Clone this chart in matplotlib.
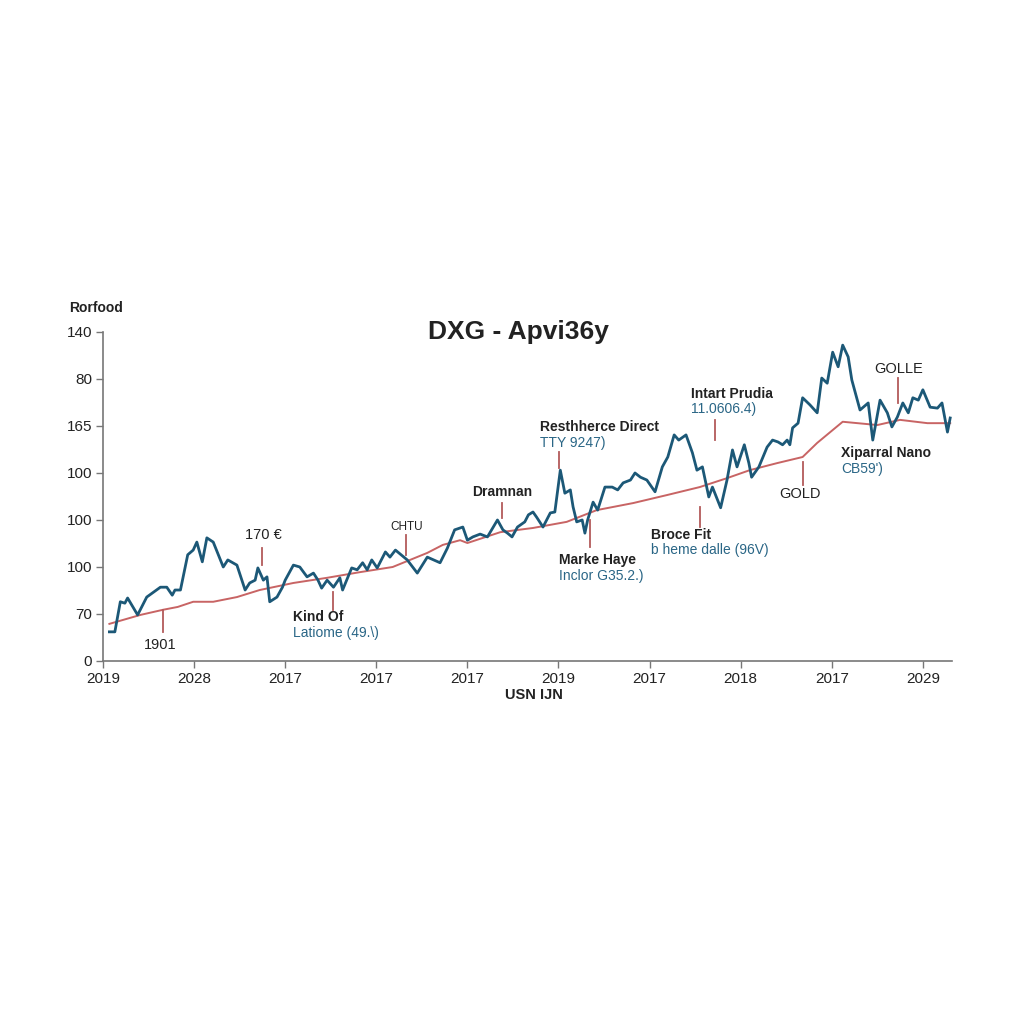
import matplotlib
matplotlib.use("Agg")
import matplotlib.pyplot as plt

plt.rcParams['font.family'] = ['Liberation Sans', 'DejaVu Sans']

# ---- data (x in tick-index units, y in tick-index units) ----
x_tick_labels = ["2019", "2028", "2017", "2017", "2017", "2019", "2017", "2018", "2017", "2029"]
y_tick_labels = ["0", "70", "100", "100", "100", "165", "80", "140"]

price_x = [0.07, 0.13, 0.19, 0.24, 0.27, 0.38, 0.48, 0.63, 0.70, 0.76, 0.79, 0.85, 0.93, 0.99,
           1.03, 1.09, 1.14, 1.21, 1.32, 1.37, 1.47, 1.56, 1.61, 1.67, 1.70, 1.76, 1.80, 1.83,
           1.91, 1.97, 2.00, 2.09, 2.16, 2.24, 2.31, 2.36, 2.40, 2.46, 2.53, 2.60, 2.63, 2.73,
           2.79, 2.85, 2.90, 2.95, 3.01, 3.10, 3.15, 3.21, 3.34, 3.45, 3.56, 3.70, 3.78, 3.86,
           3.95, 4.00, 4.06, 4.14, 4.22, 4.33, 4.39, 4.44, 4.49, 4.55, 4.63, 4.67, 4.72, 4.76,
           4.83, 4.91, 4.96, 5.02, 5.07, 5.13, 5.16, 5.20, 5.26, 5.29, 5.32, 5.38, 5.43, 5.51,
           5.59, 5.65, 5.71, 5.79, 5.84, 5.90, 5.97, 6.06, 6.14, 6.20, 6.27, 6.32, 6.40, 6.47,
           6.52, 6.58, 6.65, 6.69, 6.78, 6.85, 6.91, 6.96, 7.04, 7.09, 7.12, 7.20, 7.29, 7.35,
           7.41, 7.46, 7.51, 7.54, 7.57, 7.63, 7.68, 7.76, 7.84, 7.89, 7.95, 8.01, 8.07, 8.12,
           8.18, 8.22, 8.31, 8.40, 8.45, 8.53, 8.61, 8.66, 8.72, 8.78, 8.84, 8.89, 8.95, 9.00,
           9.08, 9.16, 9.21, 9.27, 9.30]
price_y = [0.62, 0.62, 1.26, 1.23, 1.34, 0.98, 1.36, 1.57, 1.57, 1.40, 1.51, 1.51, 2.26, 2.36,
           2.53, 2.11, 2.62, 2.53, 2.00, 2.15, 2.04, 1.51, 1.66, 1.72, 1.98, 1.72, 1.79, 1.26,
           1.36, 1.57, 1.72, 2.04, 2.00, 1.79, 1.87, 1.72, 1.55, 1.72, 1.57, 1.77, 1.51, 1.98,
           1.94, 2.09, 1.94, 2.15, 1.98, 2.32, 2.21, 2.36, 2.15, 1.87, 2.21, 2.09, 2.40, 2.79,
           2.85, 2.57, 2.64, 2.70, 2.64, 3.00, 2.79, 2.72, 2.64, 2.85, 2.96, 3.11, 3.17, 3.06,
           2.85, 3.15, 3.17, 4.06, 3.57, 3.64, 3.28, 2.96, 3.00, 2.72, 3.00, 3.38, 3.21, 3.70,
           3.70, 3.64, 3.79, 3.85, 4.00, 3.91, 3.85, 3.60, 4.13, 4.34, 4.81, 4.70, 4.81, 4.43,
           4.06, 4.13, 3.49, 3.70, 3.26, 3.85, 4.49, 4.13, 4.60, 4.21, 3.91, 4.13, 4.55, 4.70,
           4.66, 4.60, 4.70, 4.60, 4.96, 5.06, 5.60, 5.45, 5.28, 6.02, 5.91, 6.57, 6.26, 6.72,
           6.47, 5.98, 5.34, 5.49, 4.70, 5.55, 5.28, 4.98, 5.19, 5.49, 5.28, 5.60, 5.55, 5.77,
           5.40, 5.38, 5.49, 4.87, 5.17]

trend_x = [0.07, 0.41, 0.66, 0.82, 0.99, 1.21, 1.47, 1.72, 2.09, 2.46, 2.82, 3.18, 3.56, 3.73,
           3.92, 4.00, 4.36, 4.72, 5.09, 5.42, 5.82, 6.19, 6.55, 6.85, 7.10, 7.40, 7.68, 7.84,
           8.12, 8.50, 8.75, 9.05, 9.30]
trend_y = [0.79, 0.98, 1.09, 1.15, 1.26, 1.26, 1.36, 1.51, 1.66, 1.77, 1.89, 2.00, 2.30, 2.47,
           2.57, 2.51, 2.74, 2.83, 2.96, 3.21, 3.36, 3.53, 3.70, 3.89, 4.06, 4.21, 4.34, 4.64,
           5.09, 5.02, 5.13, 5.06, 5.06]

# annotation markers: x, y_low, y_high
marker_x = [0.66, 1.75, 2.52, 3.33, 4.38, 5.01, 5.35, 6.72, 6.55, 7.68, 8.73]
marker_lo = [0.62, 2.04, 1.09, 2.26, 3.04, 4.11, 2.43, 4.70, 2.85, 3.74, 5.49]
marker_hi = [1.09, 2.40, 1.47, 2.68, 3.36, 4.45, 3.00, 5.13, 3.28, 4.23, 6.02]

# plain single labels: text, x, y, ha, size, weight
plain_labels = [
    ("1901", 0.63, 0.34, "center", 10.5, "normal"),
    ("170 €", 1.76, 2.68, "center", 10.5, "normal"),
    ("CHTU", 3.33, 2.85, "center", 8.5, "normal"),
    ("Dramnan", 4.38, 3.60, "center", 10, "bold"),
    ("GOLD", 7.65, 3.55, "center", 10.5, "normal"),
    ("GOLLE", 8.73, 6.21, "center", 10.5, "normal"),
]
# two-line labels: bold title, blue sub, x, y_title, y_sub, ha
pair_labels = [
    ("Kind Of", "Latiome (49.\\)", 2.09, 0.94, 0.60, "left"),
    ("Resthherce Direct", "TTY 9247)", 4.80, 4.98, 4.64, "left"),
    ("Marke Haye", "Inclor G35.2.)", 5.01, 2.15, 1.81, "left"),
    ("Intart Prudia", "11.0606.4)", 6.45, 5.68, 5.36, "left"),
    ("Broce Fit", "b heme dalle (96V)", 6.02, 2.68, 2.36, "left"),
    ("Xiparral Nano", "CB59')", 8.10, 4.43, 4.09, "left"),
]

BLUE = "#1c5877"
RED = "#c86464"
MARK = "#b35a5a"
SUBBLUE = "#2a6686"
DARK = "#222222"

fig = plt.figure(figsize=(10.24, 10.24), dpi=100)
fig.patch.set_facecolor("white")
ax = fig.add_axes([0.1006, 0.3545, 0.8291, 0.3213])
ax.set_facecolor("white")

ax.plot(trend_x, trend_y, color=RED, lw=1.4, zorder=2)
ax.plot(price_x, price_y, color=BLUE, lw=2.0, zorder=3, solid_joinstyle="round")

for mx, lo, hi in zip(marker_x, marker_lo, marker_hi):
    ax.plot([mx, mx], [lo, hi], color=MARK, lw=1.3, zorder=4)

for txt, x, y, ha, size, weight in plain_labels:
    ax.text(x, y, txt, ha=ha, va="center", fontsize=size, fontweight=weight, color=DARK)

for title, sub, x, yt, ys, ha in pair_labels:
    ax.text(x, yt, title, ha=ha, va="center", fontsize=10, fontweight="bold", color=DARK)
    ax.text(x, ys, sub, ha=ha, va="center", fontsize=10, color=SUBBLUE)

ax.set_xlim(0, 9.32)
ax.set_ylim(0, 7)
ax.set_xticks(range(len(x_tick_labels)))
ax.set_xticklabels(x_tick_labels, fontsize=11, color=DARK)
ax.set_yticks(range(len(y_tick_labels)))
ax.set_yticklabels(y_tick_labels, fontsize=11, color=DARK)
ax.tick_params(axis="both", length=5, width=1, color="#777777", pad=3)
for s in ["top", "right"]:
    ax.spines[s].set_visible(False)
for s in ["left", "bottom"]:
    ax.spines[s].set_color("#777777")
    ax.spines[s].set_linewidth(1.2)

fig.text(0.506, 0.676, "DXG - Apvi36y", ha="center", va="center",
         fontsize=19, fontweight="bold", color="#222222")
fig.text(0.094, 0.699, "Rorfood", ha="center", va="center",
         fontsize=10, fontweight="bold", color=DARK)
fig.text(0.521, 0.321, "USN IJN", ha="center", va="center",
         fontsize=10.5, fontweight="bold", color=DARK)

fig.savefig("out.png", dpi=100, facecolor="white")
